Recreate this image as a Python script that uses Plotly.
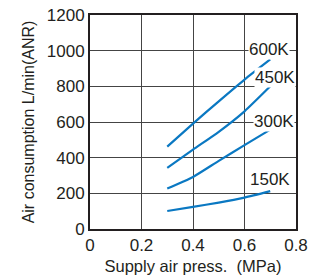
import plotly.graph_objects as go

pressure = [0.3, 0.4, 0.5, 0.6, 0.7]
k150 = [101, 124, 148, 176, 212]
k300 = [227, 292, 382, 470, 557]
k450 = [343, 445, 545, 660, 800]
k600 = [462, 591, 716, 838, 951]

series = [("150K", k150), ("300K", k300), ("450K", k450), ("600K", k600)]
label_pos = {"600K": (0.695, 1007), "450K": (0.717, 847), "300K": (0.715, 602), "150K": (0.70, 279)}

x_ticks = [0, 0.2, 0.4, 0.6, 0.8]
x_tick_text = ["0", "0.2", "0.4", "0.6", "0.8"]
y_ticks = [0, 200, 400, 600, 800, 1000, 1200]

FONT = "Liberation Sans, Arial, sans-serif"
TXT = "#231f20"
BLUE = "#0a78c2"

fig = go.Figure()
for name, vals in series:
    fig.add_trace(go.Scatter(x=pressure, y=vals, mode="lines", name=name,
                             line=dict(color=BLUE, width=2.2, shape="spline", smoothing=0.6),
                             showlegend=False, hoverinfo="skip"))

for name, (lx, ly) in label_pos.items():
    fig.add_annotation(x=lx, y=ly, text=name, showarrow=False, bgcolor="white",
                       borderpad=0, font=dict(family=FONT, size=17, color=TXT))

fig.update_layout(
    width=309, height=278,
    margin=dict(l=90, r=13, t=15, b=49),
    paper_bgcolor="white", plot_bgcolor="white",
    font=dict(family=FONT, size=17, color=TXT),
    xaxis=dict(range=[0, 0.8], tickvals=x_ticks, ticktext=x_tick_text,
               showgrid=True, gridcolor="#444444", gridwidth=1,
               showline=True, linecolor=TXT, linewidth=2, mirror=True,
               ticks="", ticklen=0, zeroline=False, automargin=False,
               title=dict(text="Supply air press.  (MPa)", font=dict(size=16.5), standoff=6),
               tickfont=dict(size=17)),
    yaxis=dict(range=[0, 1200], tickvals=y_ticks,
               showgrid=True, gridcolor="#444444", gridwidth=1,
               showline=True, linecolor=TXT, linewidth=2, mirror=True,
               ticks="", zeroline=False, automargin=False,
               title=dict(text="Air consumption L/min(ANR)", font=dict(size=16), standoff=8),
               tickfont=dict(size=17)),
)

fig.write_html("out.html", config={"displayModeBar": False},
               post_script="document.body.style.margin='0';document.body.style.padding='0';")
